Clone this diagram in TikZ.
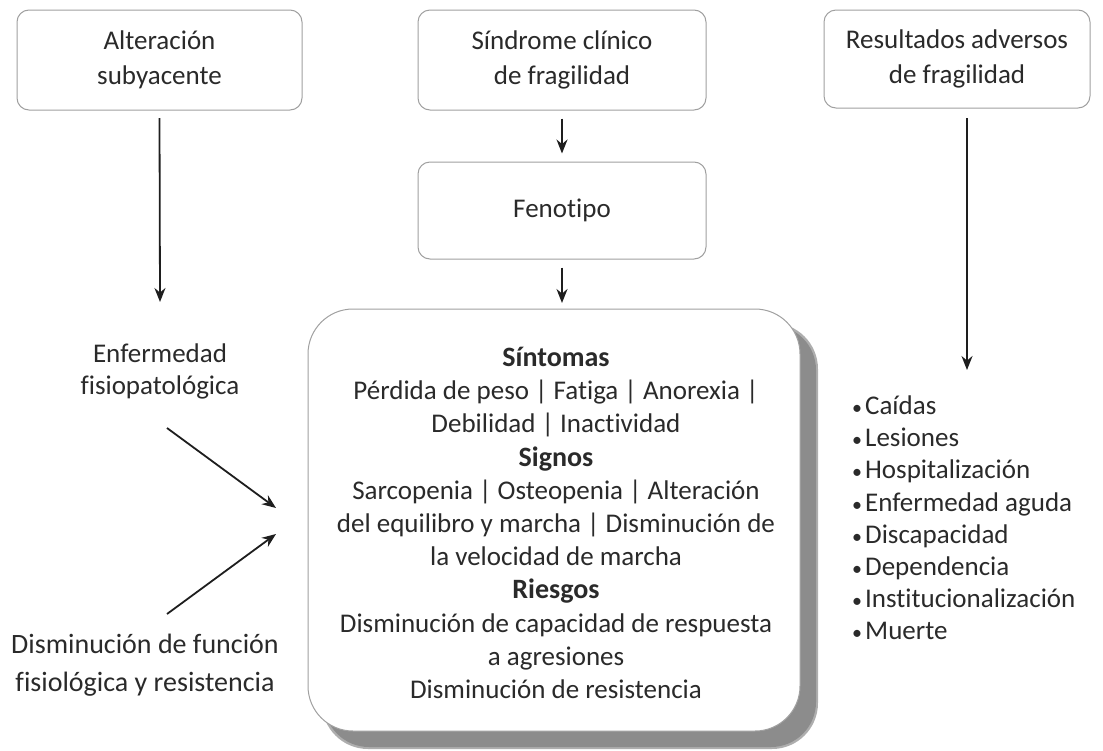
\documentclass[tikz,border=0pt]{standalone}
\usepackage{fontspec}
\setmainfont{Carlito}[Ligatures=NoCommon]
\usetikzlibrary{arrows.meta}
\definecolor{txt}{HTML}{2A2A2A}
\definecolor{bord}{HTML}{A0A0A0}
\definecolor{arr}{HTML}{1E1E1E}
\definecolor{shad}{HTML}{8C8C8C}
\begin{document}
\begin{tikzpicture}[x=1pt,y=1pt,
  font=\fontsize{27}{35}\selectfont, text=txt,
  topbox/.style={draw=bord, line width=1pt, rounded corners=12pt, fill=white, align=center, inner sep=0pt},
  conn/.style={draw=arr, line width=1.8pt, -{Stealth[length=14pt,width=11pt]}},
  plain/.style={align=center, inner sep=0pt},
  bul/.style={}]
\useasboundingbox (0,0) rectangle (1103,-750);
% top boxes
\node[topbox, minimum width=285pt, minimum height=100pt] (alt) at (159.5,-60) {Alteración\\subyacente};
\node[topbox, minimum width=288pt, minimum height=100pt] (sin) at (562,-60) {Síndrome clínico\\de fragilidad};
\node[topbox, minimum width=266pt, minimum height=98pt] (res) at (957,-59) {Resultados adversos\\de fragilidad};
\node[topbox, minimum width=288pt, minimum height=97pt] (fen) at (562,-210.5) {Fenotipo};
% big box with shadow
\fill[shad!70, rounded corners=46pt] (322,-323) rectangle (818,-749);
\fill[shad, rounded corners=45pt] (324,-325) rectangle (816,-747);
\node[draw=bord, line width=1pt, rounded corners=45pt, fill=white, minimum width=492pt, minimum height=422pt, inner sep=0pt] (big) at (554,-520) {};
\node[plain, font=\fontsize{27}{33.2}\selectfont] (bigtxt) at (556,-523) {%
{\fontsize{28}{33.2}\selectfont\bfseries Síntomas}\\
Pérdida de peso | Fatiga | Anorexia |\\
Debilidad | Inactividad\\
{\fontsize{28}{33.2}\selectfont\bfseries Signos}\\
Sarcopenia | Osteopenia | Alteración\\
del equilibro y marcha | Disminución de\\
la velocidad de marcha\\
{\fontsize{28}{33.2}\selectfont\bfseries Riesgos}\\
Disminución de capacidad de respuesta\\
a agresiones\\
Disminución de resistencia};
% left texts
\node[plain, font=\fontsize{27}{32}\selectfont] (enf) at (160,-371) {Enfermedad\\fisiopatológica};
\node[plain, font=\fontsize{28}{38}\selectfont] (dis) at (145,-665) {Disminución de función\\fisiológica y resistencia};
% right list
\newcommand{\blt}{{\fontsize{20}{20}\selectfont\textbullet}\kern3pt}
\node[plain, align=left, anchor=west, font=\fontsize{27}{32.2}\selectfont] (lst) at (852,-518) {%
\blt Caídas\\
\blt Lesiones\\
\blt Hospitalización\\
\blt Enfermedad aguda\\
\blt Discapacidad\\
\blt Dependencia\\
\blt Institucionalización\\
\blt Muerte};
% connectors
\coordinate (altend) at (160,-302);
\coordinate (resend) at (967,-370);
\coordinate (fenend) at (562,-303);
\coordinate (d1s) at (167,-428);
\coordinate (d1e) at (276,-508);
\coordinate (d2s) at (167,-614);
\coordinate (d2e) at (276,-534);
\draw[conn] (alt.south |- 0,-118) -- (altend);
\draw[conn] ([yshift=-8pt]sin.south) -- ([yshift=8pt]fen.north);
\draw[conn] ([yshift=-8pt]fen.south) -- (fenend);
\draw[conn] (resend |- 0,-118) -- (resend);
\draw[conn] (d1s) -- (d1e);
\draw[conn] (d2s) -- (d2e);
\end{tikzpicture}
\end{document}
